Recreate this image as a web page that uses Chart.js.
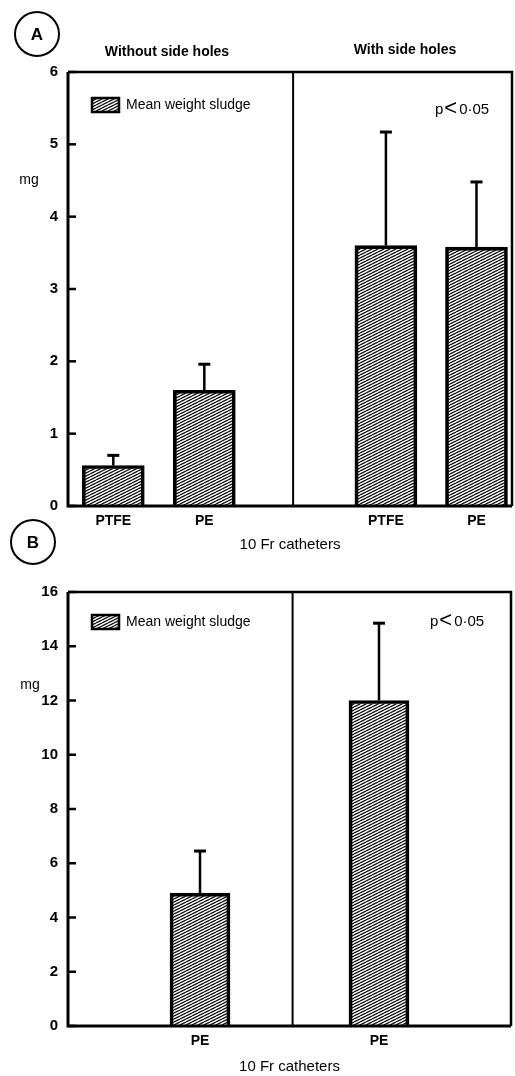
<!DOCTYPE html>
<html>
<head>
<meta charset="utf-8">
<script src="https://cdn.jsdelivr.net/npm/chart.js@4/dist/chart.umd.min.js"></script>
<style>
  html, body { margin: 0; padding: 0; background: #fff; }
  .box { position: absolute; left: 0; width: 515px; }
</style>
</head>
<body>
<div class="box" style="top:0;height:560px"><canvas id="chartA"></canvas></div>
<div class="box" style="top:515px;height:561px"><canvas id="chartB"></canvas></div>
<script>
// Panel A - 10 Fr catheters, without / with side holes
const xLabelsA = ['PTFE', 'PE', 'PTFE', 'PE'];
const xPosA = [1.02, 3.07, 7.16, 9.2];
const meanA = [0.56, 1.6, 3.6, 3.58];
const errA = [0.14, 0.36, 1.57, 0.9];
const yTicksA = [0, 1, 2, 3, 4, 5, 6];

// Panel B - PE only
const xLabelsB = ['PE', 'PE'];
const xPosB = [2.98, 7.02];
const meanB = [4.9, 12.0];
const errB = [1.55, 2.85];
const yTicksB = [0, 2, 4, 6, 8, 10, 12, 14, 16];

const dividerAt = 5.07;
const FONT = "'Liberation Sans', Arial, sans-serif";

function makeHatch() {
    const c = document.createElement('canvas');
    c.width = 6; c.height = 3;
    const g = c.getContext('2d');
    g.strokeStyle = '#111';
    g.lineWidth = 1.3;
    for (let k = -1; k <= 1; k++) {
        g.beginPath();
        g.moveTo(0, 3 + 3 * k);
        g.lineTo(6, 3 * k);
        g.stroke();
    }
    return g.createPattern(c, 'repeat');
}
const hatch = makeHatch();

function line(ctx, x1, y1, x2, y2) {
    ctx.beginPath();
    ctx.moveTo(x1, y1);
    ctx.lineTo(x2, y2);
    ctx.stroke();
}

const sketch = {
    id: 'sketch',
    afterDraw(chart, args, o) {
        const { ctx, chartArea: a, scales: { x, y } } = chart;
        ctx.save();
        ctx.strokeStyle = '#000';
        ctx.fillStyle = '#000';

        // frame
        ctx.lineWidth = 2.5;
        ctx.beginPath();
        ctx.moveTo(a.left, a.top);
        ctx.lineTo(a.right, a.top);
        ctx.lineTo(a.right, a.bottom);
        ctx.stroke();
        ctx.lineWidth = 3;
        ctx.beginPath();
        ctx.moveTo(a.left, a.top);
        ctx.lineTo(a.left, a.bottom);
        ctx.lineTo(a.right, a.bottom);
        ctx.stroke();

        // inward tick marks
        ctx.lineWidth = 2.5;
        y.ticks.forEach(t => {
            const py = y.getPixelForValue(t.value);
            line(ctx, a.left, py, a.left + 8, py);
        });

        // divider between groups
        ctx.lineWidth = 2;
        const dx = x.getPixelForValue(o.divider);
        line(ctx, dx, a.top, dx, a.bottom);

        // error bars (upper only)
        const meta = chart.getDatasetMeta(0);
        meta.data.forEach((bar, i) => {
            const top = y.getPixelForValue(o.mean[i] + o.err[i]);
            ctx.lineWidth = 2.5;
            line(ctx, bar.x, bar.y, bar.x, top);
            ctx.lineWidth = 3;
            line(ctx, bar.x - 6, top, bar.x + 6, top);
        });

        // legend
        const lg = o.legend;
        ctx.fillStyle = hatch;
        ctx.fillRect(lg.x, lg.y, 27, 14);
        ctx.lineWidth = 2.5;
        ctx.strokeRect(lg.x, lg.y, 27, 14);
        ctx.fillStyle = '#000';
        ctx.textBaseline = 'middle';
        ctx.textAlign = 'left';
        ctx.font = '14px ' + FONT;
        ctx.fillText('Mean weight sludge', lg.x + 34, lg.y + 7);

        // significance, with a large "<"
        ctx.font = '15px ' + FONT;
        ctx.fillText('p', o.p.x, o.p.y);
        let px = o.p.x + ctx.measureText('p').width + 1;
        ctx.font = '22px ' + FONT;
        ctx.fillText('<', px, o.p.y - 1);
        px += ctx.measureText('<').width + 2;
        ctx.font = '15px ' + FONT;
        ctx.fillText('0·05', px, o.p.y);

        // unit
        ctx.font = '14px ' + FONT;
        ctx.textAlign = 'center';
        ctx.fillText('mg', o.mg.x, o.mg.y);

        // group headers
        ctx.font = 'bold 14px ' + FONT;
        (o.headers || []).forEach(h => ctx.fillText(h.text, h.x, h.y));

        // panel letter
        ctx.lineWidth = 2;
        ctx.beginPath();
        ctx.arc(o.letter.x, o.letter.y, 22, 0, Math.PI * 2);
        ctx.stroke();
        ctx.font = 'bold 17px ' + FONT;
        ctx.fillText(o.letter.text, o.letter.x, o.letter.y + 1);

        ctx.restore();
    }
};

function panel(id, labels, pos, mean, err, yTicks, yMax, cfg) {
    return new Chart(document.getElementById(id), {
        type: 'bar',
        data: {
            datasets: [{
                data: pos.map((p, i) => ({ x: p, y: mean[i] })),
                backgroundColor: hatch,
                borderColor: '#000',
                borderWidth: 3,
                barThickness: cfg.barThickness
            }]
        },
        plugins: [sketch],
        options: {
            responsive: true,
            maintainAspectRatio: false,
            animation: false,
            layout: { padding: { top: cfg.top, right: cfg.right, left: 0, bottom: 0 } },
            plugins: {
                legend: { display: false },
                tooltip: { enabled: false },
                sketch: {
                    divider: dividerAt,
                    mean: mean,
                    err: err,
                    legend: cfg.legend,
                    p: cfg.p,
                    mg: cfg.mg,
                    headers: cfg.headers,
                    letter: cfg.letter
                }
            },
            scales: {
                x: {
                    type: 'linear',
                    min: 0,
                    max: 10,
                    offset: false,
                    grid: { display: false, drawTicks: false, offset: false },
                    border: { display: false },
                    afterBuildTicks: s => { s.ticks = pos.map(v => ({ value: v })); },
                    afterFit: s => { s.height = cfg.xHeight; },
                    ticks: {
                        autoSkip: false,
                        maxRotation: 0,
                        padding: 7,
                        color: '#000',
                        font: { family: FONT, size: 14, weight: 'bold' },
                        callback: (v, i) => labels[i]
                    },
                    title: {
                        display: true,
                        text: '10 Fr catheters',
                        color: '#000',
                        font: { family: FONT, size: 15 },
                        padding: { top: 0, bottom: cfg.titlePad }
                    }
                },
                y: {
                    min: 0,
                    max: yMax,
                    grid: { display: false, drawTicks: false },
                    border: { display: false },
                    afterBuildTicks: s => { s.ticks = yTicks.map(v => ({ value: v })); },
                    afterFit: s => { s.width = 68; },
                    ticks: {
                        padding: 10,
                        color: '#000',
                        font: { family: FONT, size: 15, weight: 'bold' }
                    }
                }
            }
        }
    });
}

panel('chartA', xLabelsA, xPosA, meanA, errA, yTicksA, 6, {
    top: 72, right: 3, xHeight: 54, titlePad: 6, barThickness: 62,
    legend: { x: 92, y: 98 },
    p: { x: 435, y: 110 },
    mg: { x: 29, y: 180 },
    headers: [
        { text: 'Without side holes', x: 167, y: 52 },
        { text: 'With side holes', x: 405, y: 50 }
    ],
    letter: { text: 'A', x: 37, y: 34 }
});

panel('chartB', xLabelsB, xPosB, meanB, errB, yTicksB, 16, {
    top: 77, right: 4, xHeight: 50, titlePad: 0, barThickness: 60,
    legend: { x: 92, y: 100 },
    p: { x: 430, y: 107 },
    mg: { x: 30, y: 170 },
    headers: [],
    letter: { text: 'B', x: 33, y: 27 }
});
</script>
</body>
</html>
